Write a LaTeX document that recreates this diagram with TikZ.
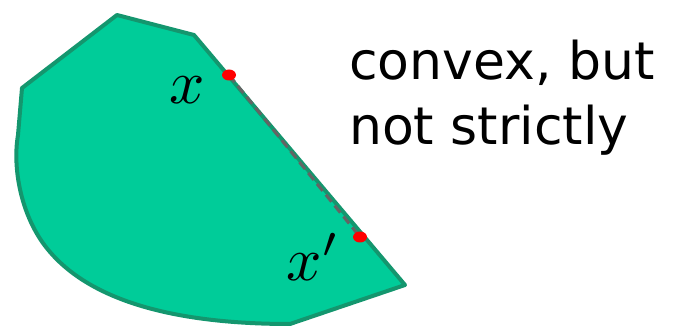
\documentclass[tikz,border=0pt]{standalone}
\usepackage{fontspec}
\newfontfamily\labelfont{DejaVu Sans}
\definecolor{regfill}{RGB}{0,204,153}
\definecolor{regline}{RGB}{20,150,110}
\definecolor{segcol}{RGB}{100,100,100}
\begin{document}
\begin{tikzpicture}[x=1pt,y=-1pt,
  region/.style={fill=regfill,draw=regline,line width=4pt,line join=round},
  seg/.style={draw=segcol,line width=3pt,dash pattern=on 9pt off 5pt},
  mlabel/.style={scale=6.2,inner sep=0pt},
  caption/.style={font=\labelfont\fontsize{52}{65}\selectfont,anchor=base west,inner sep=0pt}]
\useasboundingbox (0,0) rectangle (673,331);
\draw[region] (117,15) -- (194,35) -- (405,285) -- (290,324)
  .. controls (200,324) and (100,310) .. (50,252)
  .. controls (22,220) and (12,170) .. (18,135)
  -- (22,88) -- cycle;
\coordinate (a) at (229,75);
\coordinate (b) at (360,237);
\draw[seg] (a) -- (b);
\fill[red] (a) ellipse (7pt and 5.5pt);
\fill[red] (b) ellipse (7pt and 5.5pt);
\node[mlabel] (lx) at (187,90) {$x$};
\node[mlabel] (lxp) at (313,257) {$x'$};
\node[caption] (cap1) at (349,80) {convex, but};
\node[caption] (cap2) at (349,145) {not strictly};
\end{tikzpicture}
\end{document}
